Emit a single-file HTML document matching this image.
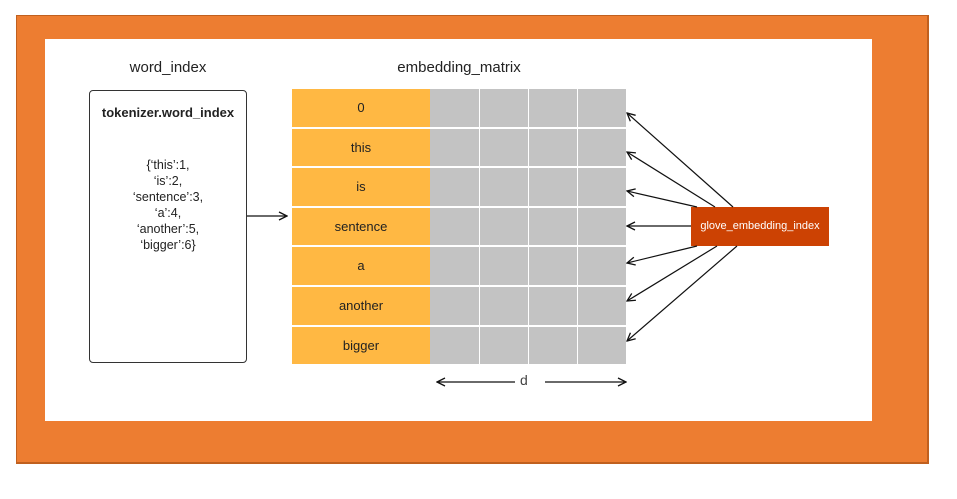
<!DOCTYPE html><html><head><style>
body{margin:0;width:957px;height:499px;background:#fff;position:relative;font-family:"Liberation Sans",sans-serif;overflow:hidden}
.a{position:absolute}
</style></head><body>
<div class="a" style="left:16px;top:15px;width:910px;height:446px;background:#ed7d31;border-right:2px solid #c0601f;border-bottom:2px solid #c0601f;border-top:1px solid #c0601f;border-left:1px solid #c0601f"></div>
<div class="a" style="left:45px;top:39px;width:827px;height:382px;background:#fff"></div>
<div class="a" style="left:89px;top:59px;width:158px;text-align:center;font-size:15px;color:#222">word_index</div>
<div class="a" style="left:292px;top:59px;width:334px;text-align:center;font-size:15px;color:#222">embedding_matrix</div>
<div class="a" style="left:89px;top:90px;width:156px;height:271px;border:1.5px solid #333;border-radius:4px"></div>
<div class="a" style="left:89px;top:105px;width:158px;text-align:center;font-size:13px;font-weight:bold;color:#222">tokenizer.word_index</div>
<div class="a" style="left:89px;top:157px;width:158px;text-align:center;font-size:12.5px;line-height:16px;color:#222">{‘this’:1,<br>‘is’:2,<br>‘sentence’:3,<br>‘a’:4,<br>‘another’:5,<br>‘bigger’:6}</div>
<div id="t"></div>
<div class="a" style="left:691px;top:207px;width:138px;height:39px;background:#cc4203;color:#fff;font-size:11px;line-height:39px;text-align:center">glove_embedding_index</div>
<div class="a" style="left:520px;top:372px;font-size:14px;color:#444">d</div>
<svg class="a" style="left:0;top:0" width="957" height="499">
<defs><marker id="m" markerWidth="10" markerHeight="10" refX="9" refY="5" orient="auto" markerUnits="userSpaceOnUse"><path d="M1,1 L9,5 L1,9" fill="none" stroke="#111" stroke-width="1.3"/></marker></defs>
<g stroke="#111" stroke-width="1.2" marker-end="url(#m)">
<line x1="247" y1="216" x2="287" y2="216"/>
<line x1="515" y1="382" x2="437" y2="382"/>
<line x1="545" y1="382" x2="626" y2="382"/>
<line x1="733" y1="207" x2="627" y2="113"/>
<line x1="715" y1="207" x2="627" y2="152"/>
<line x1="697" y1="207" x2="627" y2="191"/>
<line x1="691" y1="226" x2="627" y2="226"/>
<line x1="697" y1="246" x2="627" y2="263"/>
<line x1="717" y1="246" x2="627" y2="301"/>
<line x1="737" y1="246" x2="627" y2="341"/>
</g></svg>
<script>
var w=["0","this","is","sentence","a","another","bigger"],h="";
for(var i=0;i<7;i++){var y=89+i*39.6;
h+='<div class="a" style="left:292px;top:'+y+'px;width:138px;height:37.6px;background:#ffb843;font-size:13px;line-height:37px;text-align:center;color:#222">'+w[i]+'</div>';
var xs=[430,480,529,578],ws=[49,48,48,48];
for(var j=0;j<4;j++)h+='<div class="a" style="left:'+xs[j]+'px;top:'+y+'px;width:'+ws[j]+'px;height:37.6px;background:#c3c3c3"></div>';}
document.getElementById('t').outerHTML=h;
</script>
</body></html>
